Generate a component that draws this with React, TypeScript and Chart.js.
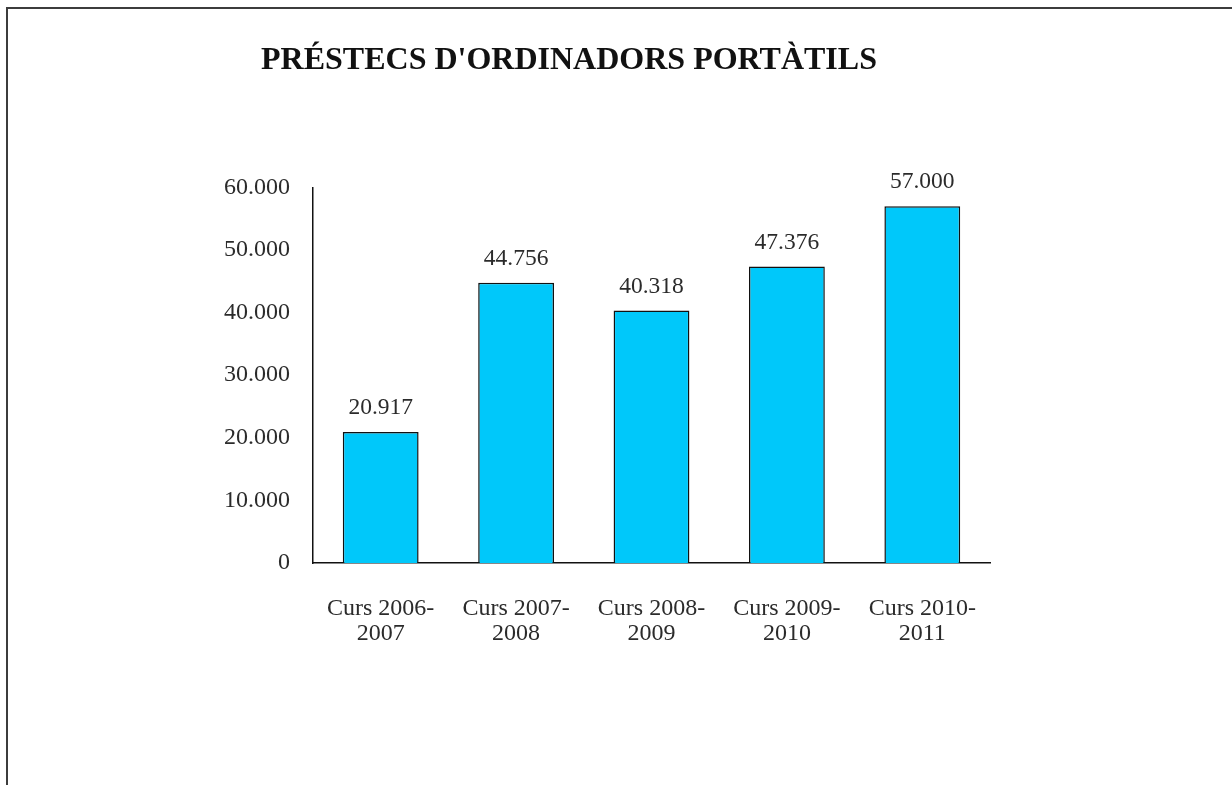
import React, { useEffect, useRef } from "react";
import { Chart, registerables } from "chart.js";

Chart.register(...registerables);

const TITLE = "PRÉSTECS D'ORDINADORS PORTÀTILS";
const CATEGORIES: string[][] = [
  ["Curs 2006-", "2007"],
  ["Curs 2007-", "2008"],
  ["Curs 2008-", "2009"],
  ["Curs 2009-", "2010"],
  ["Curs 2010-", "2011"],
];
const LOANS: number[] = [20917, 44756, 40318, 47376, 57000];
const Y_MIN = 0;
const Y_MAX = 60000;
const Y_STEP = 10000;

const fmt = (v: number) =>
  Math.round(v)
    .toString()
    .replace(/\B(?=(\d{3})+(?!\d))/g, ".");

const SERIF = "'Liberation Serif', 'DejaVu Serif', serif";

const valueLabels = {
  id: "valueLabels",
  afterDatasetsDraw(chart: any) {
    const ctx = chart.ctx;
    const meta = chart.getDatasetMeta(0);
    ctx.save();
    ctx.font = `23.5px ${SERIF}`;
    ctx.fillStyle = "#2b2b2b";
    ctx.textAlign = "center";
    ctx.textBaseline = "middle";
    meta.data.forEach((bar: any, i: number) => {
      const v = chart.data.datasets[0].data[i] as number;
      ctx.fillText(fmt(v), bar.x, bar.y - 24);
    });
    ctx.restore();
  },
};

export default function App() {
  const ref = useRef<HTMLCanvasElement | null>(null);

  useEffect(() => {
    if (!ref.current) return;
    const chart = new Chart(ref.current, {
      type: "bar",
      data: {
        labels: CATEGORIES,
        datasets: [
          {
            data: LOANS,
            backgroundColor: "#00C8FA",
            borderColor: "#111111",
            borderWidth: 1.5,
            borderSkipped: "bottom",
            categoryPercentage: 1,
            barPercentage: 0.56,
          },
        ],
      },
      options: {
        animation: false,
        responsive: false,
        maintainAspectRatio: false,
        layout: { padding: { left: 140, right: 140, top: 0, bottom: 0 } },
        plugins: {
          legend: { display: false },
          tooltip: { enabled: false },
          title: {
            display: true,
            text: TITLE,
            color: "#111111",
            font: { family: SERIF, size: 32, weight: "bold", lineHeight: 1.2 },
            padding: { top: 33, bottom: 107 },
          },
        },
        scales: {
          x: {
            grid: { display: false, drawTicks: false },
            border: { display: true, color: "#111111", width: 1.5 },
            ticks: {
              color: "#2b2b2b",
              font: { family: SERIF, size: 24, lineHeight: 1.04 },
              padding: 33,
              maxRotation: 0,
              autoSkip: false,
            },
            afterFit: (s: any) => {
              s.height = 216;
            },
          },
          y: {
            min: Y_MIN,
            max: Y_MAX,
            grid: { display: false, drawTicks: false },
            border: { display: true, color: "#111111", width: 1.5 },
            ticks: {
              stepSize: Y_STEP,
              color: "#2b2b2b",
              font: { family: SERIF, size: 24 },
              padding: 23,
              callback: (v: any) => fmt(Number(v)),
            },
            afterFit: (s: any) => {
              s.width = 165;
            },
          },
        },
      },
      plugins: [valueLabels],
    });
    return () => chart.destroy();
  }, []);

  return (
    <div
      style={{
        position: "absolute",
        left: 6,
        top: 7,
        width: 1226,
        height: 778,
        borderLeft: "2px solid #3c3c3c",
        borderTop: "2px solid #3c3c3c",
        background: "#ffffff",
        boxSizing: "border-box",
        overflow: "hidden",
      }}
    >
      <canvas
        ref={ref}
        width={1122}
        height={770}
        style={{ position: "absolute", left: 0, top: 0, width: 1122, height: 770 }}
      />
    </div>
  );
}
